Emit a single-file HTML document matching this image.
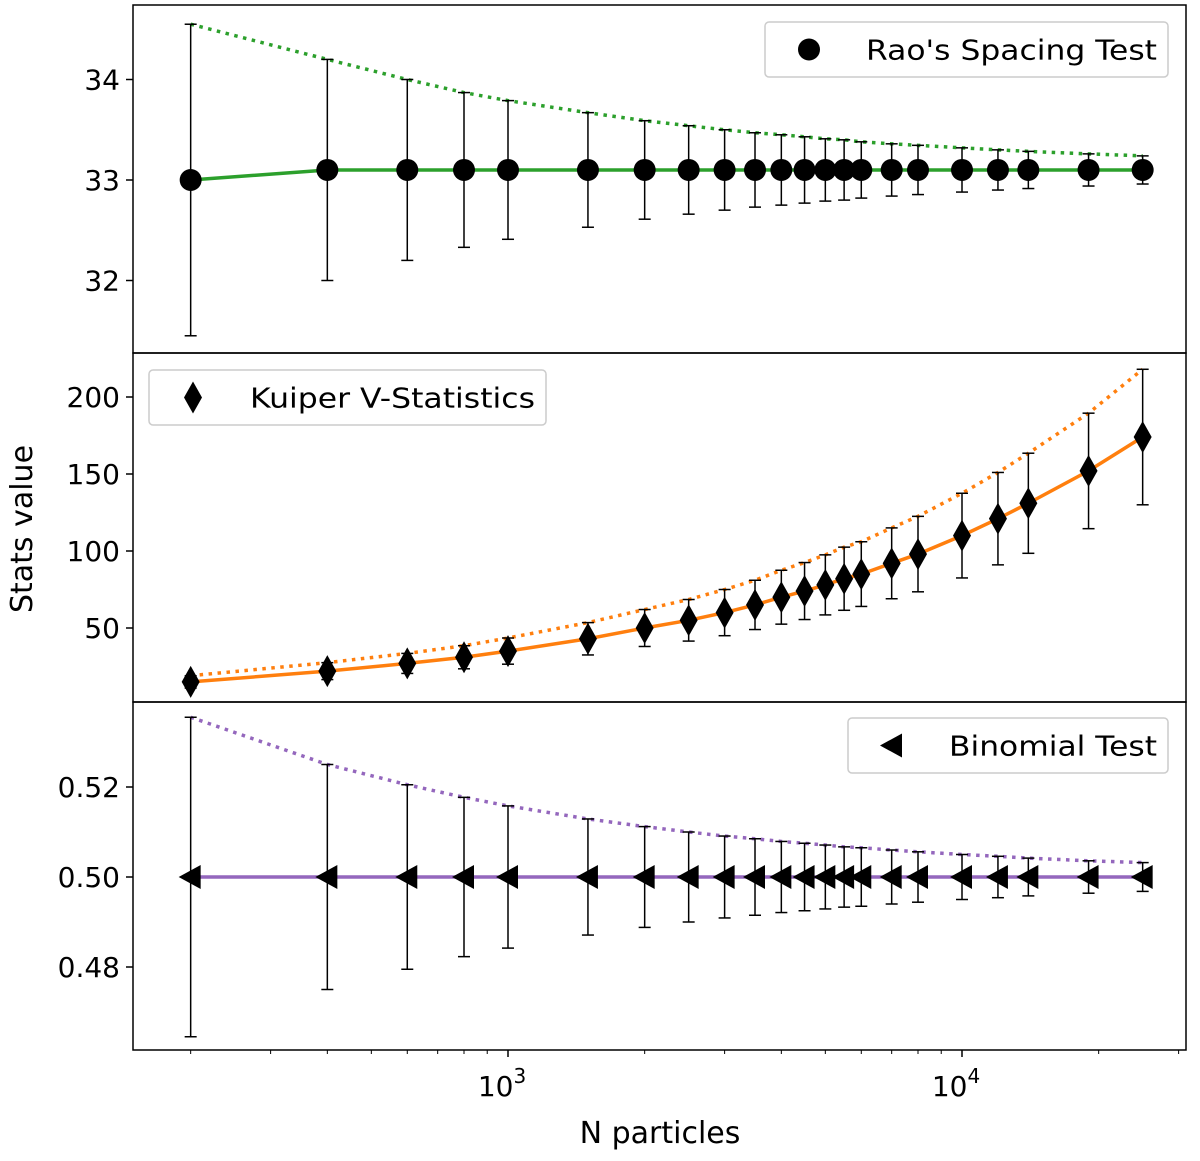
<!DOCTYPE html>
<html><head><meta charset="utf-8"><style>
body{margin:0;background:#fff;}
svg text{font-family:"DejaVu Sans","Liberation Sans",sans-serif;fill:#000;}
</style></head><body>
<svg id="chart" width="1200" height="1156" viewBox="0 0 1200 1156" xmlns="http://www.w3.org/2000/svg"></svg>
<script>
const nParticles=[200,400,600,800,1000,1500,2000,2500,3000,3500,4000,4500,5000,5500,6000,7000,8000,10000,12000,14000,19000,25000];
const raoValues=[33.0,33.1,33.1,33.1,33.1,33.1,33.1,33.1,33.1,33.1,33.1,33.1,33.1,33.1,33.1,33.1,33.1,33.1,33.1,33.1,33.1,33.1];
const raoErrors=[1.55,1.1,0.9,0.77,0.69,0.57,0.49,0.44,0.4,0.37,0.35,0.33,0.31,0.3,0.28,0.26,0.245,0.22,0.2,0.185,0.16,0.14];
const kuiperValues=[15,22,27,31,35,43,50,55,60,65,70,74,78,82,85,92,98,110,121,131,152,174];
const kuiperErrors=[4,5.5,6.5,7.5,8.5,10.5,12,13.5,15,16,17.5,18.5,19.5,20.5,21,23,24.5,27.5,30,32.5,37.5,44];
const binomValues=[0.5,0.5,0.5,0.5,0.5,0.5,0.5,0.5,0.5,0.5,0.5,0.5,0.5,0.5,0.5,0.5,0.5,0.5,0.5,0.5,0.5,0.5];
const binomErrors=[0.0355,0.025,0.0205,0.0177,0.0158,0.0129,0.0112,0.01,0.0091,0.0085,0.0079,0.0075,0.0071,0.0067,0.0065,0.006,0.0056,0.005,0.0046,0.0042,0.0036,0.0032];
const raoTicks=[32,33,34];
const kuiperTicks=[50,100,150,200];
const binomTicks=[0.48,0.50,0.52];

const NS="http://www.w3.org/2000/svg";
const svg=document.getElementById('chart');
function mk(tag,attrs,parent){const e=document.createElementNS(NS,tag);for(const k in attrs)e.setAttribute(k,attrs[k]);(parent||svg).appendChild(e);return e;}
const X0=133,X1=1186;
function xs(n){return 508+454*Math.log10(n/1000);}

const panels=[
 {name:'rao',top:5,bot:353,vals:raoValues,errs:raoErrors,ticks:raoTicks,fmt:v=>v.toFixed(0),color:'#2ca02c',y:v=>180-(v-33)*100.5,marker:'circle',legend:"Rao's Spacing Test",lg:[765,22,403,55]},
 {name:'kuiper',top:353,bot:702,vals:kuiperValues,errs:kuiperErrors,ticks:kuiperTicks,fmt:v=>v.toFixed(0),color:'#ff7f0e',y:v=>628-(v-50)*1.54,marker:'diamond',legend:'Kuiper V-Statistics',lg:[149,370,397,55]},
 {name:'binomial',top:702,bot:1050,vals:binomValues,errs:binomErrors,ticks:binomTicks,fmt:v=>v.toFixed(2),color:'#9467bd',y:v=>877-(v-0.5)*4500,marker:'triangle',legend:'Binomial Test',lg:[848,718,320,55]}
];

function marker(type,cx,cy,g){
 if(type==='circle')return mk('circle',{cx:cx,cy:cy,r:11,fill:'#000'},g);
 if(type==='diamond')return mk('polygon',{points:`${cx},${cy-16} ${cx+9},${cy} ${cx},${cy+16} ${cx-9},${cy}`,fill:'#000'},g);
 return mk('polygon',{points:`${cx-12},${cy} ${cx+10},${cy-12} ${cx+10},${cy+12}`,fill:'#000'},g);
}

panels.forEach(p=>{
 const g=mk('g',{});
 
 
 p.ticks.forEach(t=>{
  const y=p.y(t);
  mk('line',{x1:X0-7,x2:X0,y1:y,y2:y,stroke:'#000','stroke-width':1.5},g);
  const tx=mk('text',{x:X0-13,y:y+10,'text-anchor':'end','font-size':28},g);tx.textContent=p.fmt(t);
  
  
 });
 const px=nParticles.map(xs);
 mk('polyline',{points:px.map((x,i)=>x+','+p.y(p.vals[i]+p.errs[i])).join(' '),fill:'none',stroke:p.color,'stroke-width':3.5,'stroke-dasharray':'3.5,5.5'},g);
 mk('polyline',{points:px.map((x,i)=>x+','+p.y(p.vals[i])).join(' '),fill:'none',stroke:p.color,'stroke-width':3.5},g);
 px.forEach((x,i)=>{
  const yt=p.y(p.vals[i]+p.errs[i]),yb=p.y(p.vals[i]-p.errs[i]);
  const eb=mk('g',{stroke:'#000','stroke-width':1.5},g);
  
  
  mk('line',{x1:x,x2:x,y1:yt,y2:yb},eb);
  mk('line',{x1:x-6,x2:x+6,y1:yt,y2:yt},eb);
  mk('line',{x1:x-6,x2:x+6,y1:yb,y2:yb},eb);
 });
 px.forEach((x,i)=>{
  const m=marker(p.marker,x,p.y(p.vals[i]),g);
  
  
 });
 const [lx,ly,lw,lh]=p.lg;
 const lgG=mk('g',{},g);
 
 
 mk('rect',{x:lx,y:ly,width:lw,height:lh,rx:4,fill:'#fff',stroke:'#ccc','stroke-width':1.5,'fill-opacity':0.85},lgG);
 marker(p.marker,lx+44,ly+lh/2,lgG);
 const lt=mk('text',{x:lx+lw-11,y:ly+lh/2+10,'text-anchor':'end','font-size':28,textLength:lw-112,lengthAdjust:'spacingAndGlyphs'},lgG);lt.textContent=p.legend;
 mk('rect',{x:X0,y:p.top,width:X1-X0,height:p.bot-p.top,fill:'none',stroke:'#000','stroke-width':1.5},g);
});

const xt=mk('g',{});


for(let d=2;d<=4;d++){for(let m=1;m<10;m++){const n=m*Math.pow(10,d);const x=xs(n);if(x<X0||x>X1)continue;
 mk('line',{x1:x,x2:x,y1:1050,y2:m===1?1057:1054,stroke:'#000','stroke-width':m===1?1.5:1},xt);}}
[[1000,'3'],[10000,'4']].forEach(([n,e])=>{const t=mk('text',{x:xs(n)-6,y:1096,'text-anchor':'middle','font-size':28},xt);t.innerHTML='10<tspan dy="-13" font-size="20">'+e+'</tspan>';});
const xl=mk('text',{x:660,y:1143,'text-anchor':'middle','font-size':30});xl.textContent='N particles';


const yl=mk('text',{x:0,y:0,'text-anchor':'middle','font-size':30,transform:'translate(32,529) rotate(-90)'});yl.textContent='Stats value';


</script>
</body></html>
